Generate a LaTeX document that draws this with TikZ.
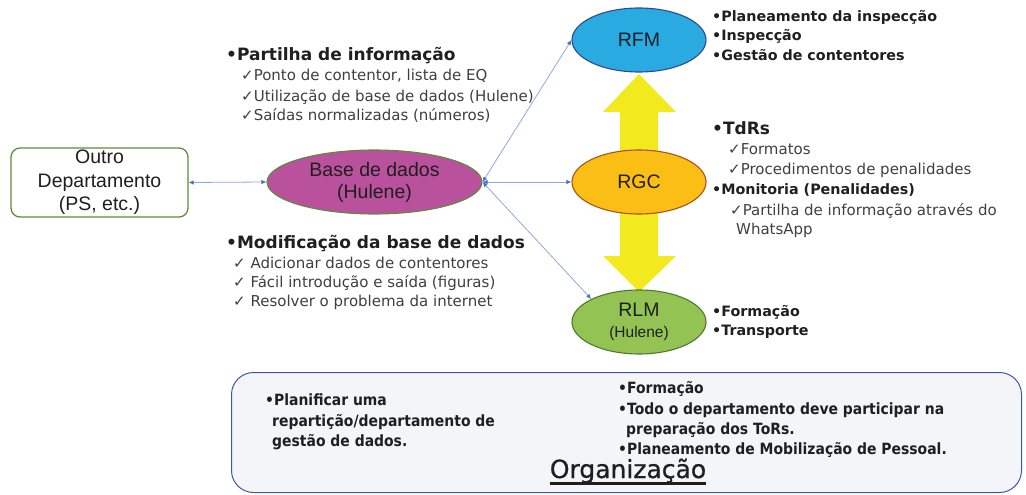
\documentclass[tikz,border=0pt]{standalone}
\usepackage{fontspec}
\setmainfont{DejaVu Sans}
\newfontfamily\arialf{Liberation Sans}
\newfontfamily\condf[FakeStretch=0.9]{DejaVu Sans}
\newfontfamily\orgf[FakeBold=0.8]{DejaVu Sans}
\usetikzlibrary{shapes.geometric,arrows.meta}
\definecolor{txtdark}{HTML}{1F1F1F}
\definecolor{txtgray}{HTML}{3F3F3F}
\definecolor{boxgreen}{HTML}{5E8C3A}
\definecolor{basefill}{HTML}{B9519D}
\definecolor{rfmfill}{HTML}{29ABE2}
\definecolor{rfmline}{HTML}{2E4A8F}
\definecolor{rgcfill}{HTML}{FBBE14}
\definecolor{rgcline}{HTML}{A5541E}
\definecolor{rlmfill}{HTML}{92C353}
\definecolor{rlmline}{HTML}{4F7A2E}
\definecolor{linelight}{HTML}{8EA9DB}
\definecolor{arrowblue}{HTML}{4472C4}
\definecolor{yellowarrow}{HTML}{F2EA1E}
\definecolor{orgfill}{HTML}{F3F5F9}
\definecolor{orgline}{HTML}{3A5A9B}
\begin{document}
\begin{tikzpicture}[x=1pt,y=-1pt,
  outbox/.style={draw=boxgreen, line width=1.3pt, rounded corners=9pt, minimum width=177pt, minimum height=69pt, fill=white, align=center, inner sep=0pt, text=txtdark, font=\arialf\fontsize{19.5}{23.5}\selectfont},
  ell/.style={ellipse, line width=1.1pt, inner sep=0pt, align=center, text=txtdark, font=\arialf\fontsize{19.5}{22}\selectfont},
  conn/.style={draw=linelight, line width=0.8pt, {Latex[length=5pt,width=4.5pt,color=arrowblue]}-{Latex[length=5pt,width=4.5pt,color=arrowblue]}},
  hb/.style={anchor=base west, inner sep=0pt, text=txtdark, font=\bfseries\fontsize{14.3}{17}\selectfont},
  hbig/.style={anchor=base west, inner sep=0pt, text=txtdark, font=\bfseries\fontsize{17}{20}\selectfont},
  it/.style={anchor=base west, inner sep=0pt, text=txtgray, font=\fontsize{15}{18}\selectfont},
  bt/.style={anchor=base west, inner sep=0pt, text=txtdark, font=\condf\bfseries\fontsize{15.5}{18}\selectfont}
]
\useasboundingbox (0,0) rectangle (1026,495);

% yellow double arrow
\fill[yellowarrow] (639,74) -- (676,112) -- (658,112) -- (658,256) -- (676,256) -- (639,292) -- (603,256) -- (620,256) -- (620,112) -- (603,112) -- cycle;

% main nodes
\node[outbox] (outro) at (99.5,182.5) {Outro\\Departamento\\(PS, etc.)};
\node[ell, fill=basefill, draw=boxgreen, minimum width=215pt, minimum height=64pt] (base) at (374.5,182) {Base de dados\\(Hulene)};
\node[ell, fill=rfmfill, draw=rfmline, minimum width=134pt, minimum height=64pt] (rfm) at (639,40) {RFM};
\node[ell, fill=rgcfill, draw=rgcline, minimum width=134pt, minimum height=64pt] (rgc) at (639,182) {RGC};
\node[ell, fill=rlmfill, draw=rlmline, minimum width=134pt, minimum height=64pt] (rlm) at (639,322) {RLM\\[-1pt]{\fontsize{15.5}{18}\selectfont (Hulene)}};

% connectors
\draw[conn] (outro.east) -- (base.west);
\draw[conn] (base.east) -- (rfm.west);
\draw[conn] (base.east) -- (rgc.west);
\draw[conn] (base.east) -- (rlm.north west);

% left upper text
\node[hbig] (p0) at (226,61) {•Partilha de informação};
\node[it] (p1) at (241,81) {✓Ponto de contentor, lista de EQ};
\node[it] (p2) at (241,102) {✓Utilização de base de dados (Hulene)};
\node[it] (p3) at (241,121) {✓Saídas normalizadas (números)};

% left lower text
\node[hbig] (m0) at (226,248) {•Modificação da base de dados};
\node[it] (m1) at (233,268.5) {✓ Adicionar dados de contentores};
\node[it] (m2) at (233,287.5) {✓ Fácil introdução e saída (figuras)};
\node[it] (m3) at (233,306.5) {✓ Resolver o problema da internet};

% RFM text
\node[hb] (f1) at (712,22) {•Planeamento da inspecção};
\node[hb] (f2) at (712,41) {•Inspecção};
\node[hb] (f3) at (712,61) {•Gestão de contentores};

% RGC text
\node[hbig] (g0) at (712,135) {•TdRs};
\node[it] (g1) at (728,154.5) {✓Formatos};
\node[it] (g2) at (728,174.5) {✓Procedimentos de penalidades};
\node[hb] (g3) at (712,194) {•Monitoria (Penalidades)};
\node[it] (g4) at (730,215.5) {✓Partilha de informação através do};
\node[it] (g5) at (736,234.5) {WhatsApp};

% RLM text
\node[hb] (l1) at (712,316) {•Formação};
\node[hb] (l2) at (712,335) {•Transporte};

% organisation box
\node[draw=orgline, fill=orgfill, line width=1pt, rounded corners=22pt, minimum width=790pt, minimum height=120pt, inner sep=0pt] (orgbox) at (626.5,432.5) {};
\node[bt] (o1) at (265,405) {•Planificar uma};
\node[bt] (o2) at (272,426) {repartição/departamento de};
\node[bt] (o3) at (272,446) {gestão de dados.};
\node[bt] (o4) at (618,393) {•Formação};
\node[bt] (o5) at (618,414) {•Todo o departamento deve participar na};
\node[bt] (o6) at (626,434) {preparação dos ToRs.};
\node[bt] (o7) at (618,454) {•Planeamento de Mobilização de Pessoal.};
\node[anchor=base, inner sep=0pt, text=txtdark, font=\orgf\fontsize{25}{28}\selectfont] (org) at (628,478) {Organização};
\draw[txtdark, line width=2.5pt] ([yshift=-5.5pt]org.base west) -- ([yshift=-5.5pt]org.base east);
\end{tikzpicture}
\end{document}
